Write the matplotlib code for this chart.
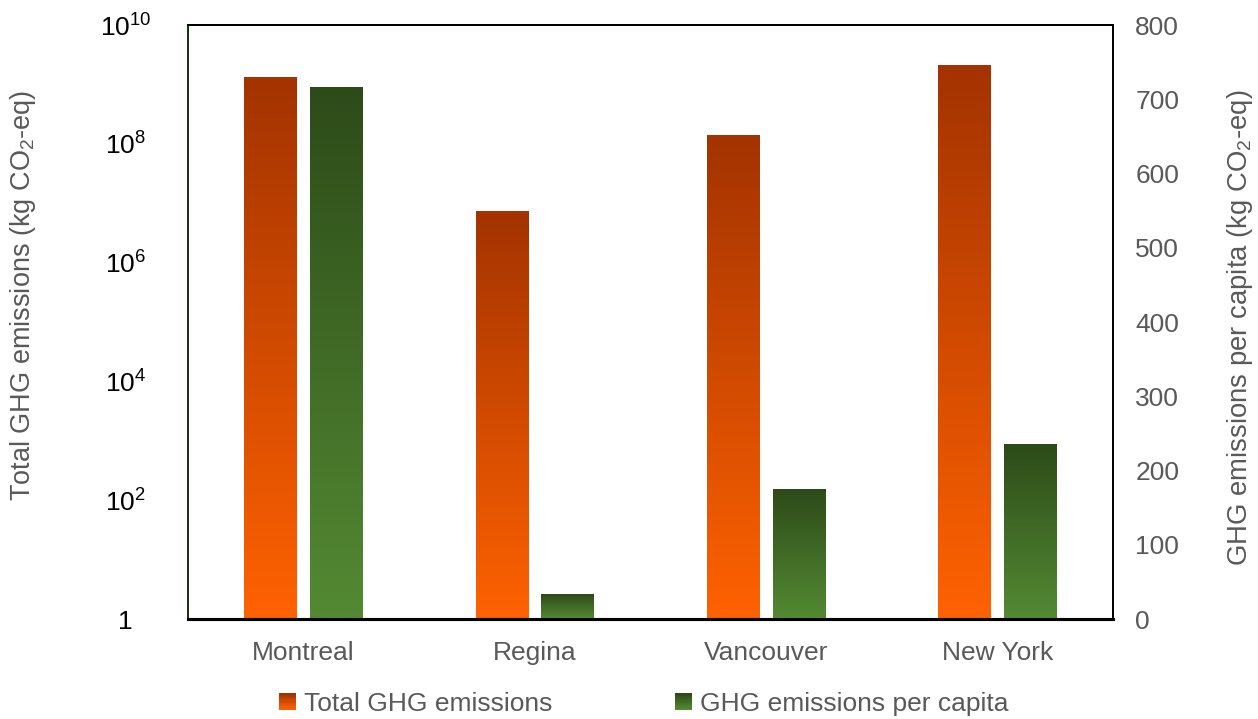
import numpy as np
import matplotlib.pyplot as plt
from matplotlib.colors import LinearSegmentedColormap
from matplotlib.patches import Rectangle
from matplotlib.legend_handler import HandlerBase
from matplotlib.ticker import FixedLocator, FuncFormatter

plt.rcParams['font.family'] = ['Liberation Sans', 'DejaVu Sans']
plt.rcParams['mathtext.fontset'] = 'custom'
plt.rcParams['mathtext.rm'] = 'Liberation Sans'

# ---------------------------------------------------------------
# data
# ---------------------------------------------------------------
cities = ['Montreal', 'Regina', 'Vancouver', 'New York']
total_ghg = [1.28e9, 7.1e6, 1.35e8, 2.04e9]        # kg CO2-eq
per_capita_ghg = [715, 33, 174, 235]               # kg CO2-eq per capita

GRAY = '#595959'
FS = 19
orange_cmap = LinearSegmentedColormap.from_list('orng', ['#FF6200', '#A33300'])
green_cmap = LinearSegmentedColormap.from_list('grn', ['#548A33', '#2D4B19'])

fig = plt.figure(figsize=(12.58, 7.19), dpi=100)
ax = fig.add_axes([0.1494, 0.1387, 0.7353, 0.8265])
ax2 = ax.twinx()

ax.set_yscale('log')
ax.set_ylim(1, 1e10)
ax.set_xlim(-0.5, len(cities) - 0.5)
ax2.set_ylim(0, 800)

x = np.arange(len(cities))
width = 0.228
offset = 0.142


def gradient_bars(axis, xs, vals, cmap):
    """Bars filled with a vertical gradient spanning each bar's own height."""
    bars = axis.bar(xs, vals, width, color='none', zorder=2)
    grad = np.linspace(1, 0, 256).reshape(-1, 1)
    to_axes = axis.transData + axis.transAxes.inverted()
    for b in bars:
        x0, y0 = b.get_x(), b.get_y()
        x1, y1 = x0 + b.get_width(), y0 + b.get_height()
        if axis.get_yscale() == 'log':
            y0 = axis.get_ylim()[0]
        (ax0, ay0), (ax1, ay1) = to_axes.transform([(x0, y0), (x1, y1)])
        im = axis.imshow(grad, cmap=cmap, extent=(ax0, ax1, ay0, ay1),
                         transform=axis.transAxes, aspect='auto',
                         interpolation='bilinear', zorder=2)
        im.set_clip_on(False)
    return bars


gradient_bars(ax, x - offset, total_ghg, orange_cmap)
gradient_bars(ax2, x + offset, per_capita_ghg, green_cmap)
ax.set_xlim(-0.5, len(cities) - 0.5)
ax.set_ylim(1, 1e10)
ax2.set_ylim(0, 800)

# left (log) axis
ax.yaxis.set_major_locator(FixedLocator([10.0 ** k for k in range(0, 11, 2)]))
ax.yaxis.set_minor_locator(FixedLocator([]))
ax.yaxis.set_major_formatter(FuncFormatter(
    lambda v, p: '1' if v <= 1 else r'$\mathregular{10^{%d}}$' % round(np.log10(v))))
ax.tick_params(axis='y', length=0, pad=45, labelsize=FS, labelcolor='black')
for lab in ax.get_yticklabels():
    lab.set_horizontalalignment('center')
ax.set_ylabel(r'Total GHG emissions (kg CO$\mathregular{_2}$-eq)', fontsize=19.5,
              color=GRAY)
ax.yaxis.set_label_coords(-0.162, 0.545)

# right (linear) axis
ax2.set_yticks(np.arange(0, 801, 100))
ax2.tick_params(axis='y', length=0, pad=16, labelsize=FS, labelcolor=GRAY)
ax2.set_ylabel(r'GHG emissions per capita (kg CO$\mathregular{_2}$-eq)', fontsize=19.8,
               color=GRAY, rotation=90)
ax2.yaxis.set_label_coords(1.121, 0.49)

ax.set_xticks(x)
ax.set_xticklabels(cities)
ax.tick_params(axis='x', length=0, pad=16, labelsize=FS, labelcolor=GRAY)

for a in (ax, ax2):
    a.spines['top'].set_linewidth(1.3)
    a.spines['right'].set_linewidth(1.3)
    a.spines['bottom'].set_linewidth(2.2)
    a.spines['left'].set_linewidth(1.3)
    a.spines['left'].set_color('#17330A')


class GradientHandler(HandlerBase):
    def __init__(self, cmap, steps=14):
        super().__init__()
        self.cmap = cmap
        self.steps = steps

    def create_artists(self, legend, orig_handle, xdescent, ydescent,
                       width, height, fontsize, trans):
        side = height * 0.9
        x0 = -xdescent + width - side
        y0 = -ydescent + (height - side) / 2
        arts = []
        for i in range(self.steps):
            c = self.cmap(i / (self.steps - 1))
            arts.append(Rectangle((x0, y0 + side - (i + 1) * side / self.steps),
                                  side, side / self.steps + 0.3, facecolor=c,
                                  edgecolor='none', transform=trans))
        return arts[::-1]


h1 = Rectangle((0, 0), 1, 1)
h2 = Rectangle((0, 0), 1, 1)
fig.legend([h1, h2], ['Total GHG emissions', 'GHG emissions per capita'],
           handler_map={h1: GradientHandler(orange_cmap.reversed()),
                        h2: GradientHandler(green_cmap.reversed())},
           loc='center', bbox_to_anchor=(0.513, 0.021), ncol=2, frameon=False,
           fontsize=FS, labelcolor=GRAY, handlelength=0.5, handleheight=0.7,
           handletextpad=0.3, columnspacing=4.8)

fig.savefig('out.png', dpi=100)
